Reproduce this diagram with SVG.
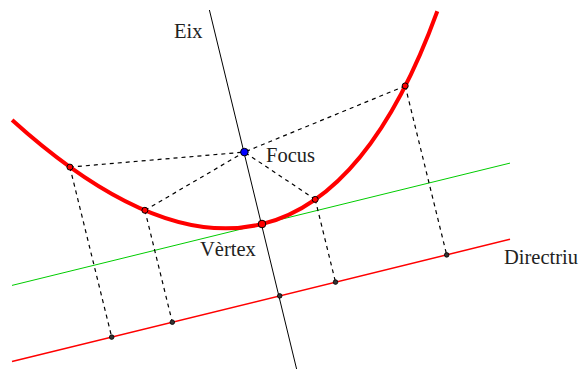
<svg xmlns="http://www.w3.org/2000/svg" width="584" height="369" viewBox="0 0 584 369">
<style>
.lbl{font-family:"Liberation Serif","Times New Roman",serif;font-size:20.5px;fill:#222}
.dash{stroke:#000;stroke-width:1.2;stroke-dasharray:4 4;fill:none}
.pt{fill:#ff0000;stroke:#000;stroke-width:1}
.ft{fill:#333;stroke:#000;stroke-width:0.8}
</style>
<rect width="584" height="369" fill="#fff"/>
<g id="connectors">
<line id="tangent" x1="12" y1="285.4" x2="510" y2="163.1" stroke="#00cc00" stroke-width="1"/>
<line id="directrix" x1="12" y1="361.6" x2="510" y2="239.3" stroke="#ff0000" stroke-width="1.5"/>
<line id="axis" x1="209.4" y1="10" x2="296.6" y2="369" stroke="#000" stroke-width="1"/>
<line class="dash" x1="69.9" y1="167.1" x2="244.4" y2="152.1"/>
<line class="dash" x1="144.9" y1="210.3" x2="244.4" y2="152.1"/>
<line class="dash" x1="315.2" y1="199.4" x2="244.4" y2="152.1"/>
<line class="dash" x1="405.2" y1="85.9" x2="244.4" y2="152.1"/>
<line class="dash" x1="69.9" y1="167.1" x2="111.7" y2="337.1"/>
<line class="dash" x1="144.9" y1="210.3" x2="172.3" y2="322.2"/>
<line class="dash" x1="315.2" y1="199.4" x2="335.5" y2="282.1"/>
<line class="dash" x1="405.2" y1="85.9" x2="446.7" y2="254.9"/>
<path id="parabola" d="M12.1,119.9 Q302.2,381.8 437.3,11.2" fill="none" stroke="#ff0000" stroke-width="4"/>
</g>
<g id="points">
<circle class="pt" cx="69.9" cy="167.1" r="3"/>
<circle class="pt" cx="144.9" cy="210.3" r="3"/>
<circle class="pt" cx="315.2" cy="199.4" r="3"/>
<circle class="pt" cx="405.2" cy="85.9" r="3"/>
<circle class="ft" cx="111.7" cy="337.1" r="2.3"/>
<circle class="ft" cx="172.3" cy="322.2" r="2.3"/>
<circle class="ft" cx="279.7" cy="295.9" r="2.3"/>
<circle class="ft" cx="335.5" cy="282.1" r="2.3"/>
<circle class="ft" cx="446.7" cy="254.9" r="2.3"/>
</g>
<g id="focus">
<circle cx="244.4" cy="152.1" r="3.8" fill="#0000ff" stroke="#000" stroke-width="1"/>
<text class="lbl" x="266" y="162">Focus</text>
</g>
<g id="vertex">
<circle cx="262" cy="224" r="3.8" fill="#ff0000" stroke="#000" stroke-width="1"/>
<text class="lbl" x="200" y="256">Vèrtex</text>
</g>
<g id="eix">
<text class="lbl" x="174" y="38">Eix</text>
</g>
<g id="directriu">
<text class="lbl" x="504" y="264">Directriu</text>
</g>
</svg>
